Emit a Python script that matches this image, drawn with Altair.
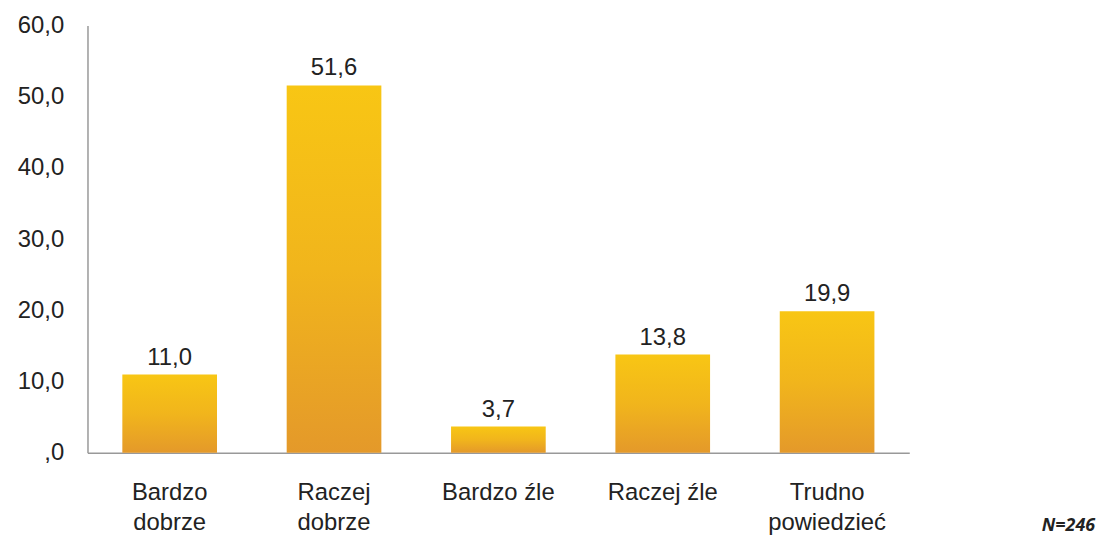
import altair as alt
import pandas as pd

categories = ["Bardzo dobrze", "Raczej dobrze", "Bardzo źle", "Raczej źle", "Trudno powiedzieć"]
values = [11.0, 51.6, 3.7, 13.8, 19.9]
y_ticks = [0, 10, 20, 30, 40, 50, 60]
note = ["N=246"]

df = pd.DataFrame({"kat": categories, "val": values})
note_df = pd.DataFrame({"t": note})

FONT = "Liberation Sans"

x = alt.X("kat:N", sort=categories, title=None,
          scale=alt.Scale(paddingInner=0.424, paddingOuter=0.212),
          axis=alt.Axis(labelAngle=0, ticks=False, domainColor="#999999", domainWidth=1.5,
                        labelFontSize=24, labelFont=FONT, labelColor="#222222",
                        labelPadding=40, labelLineHeight=30, labelBaseline="middle",
                        labelExpr="indexof(datum.label, 'źle') >= 0 ? datum.label : split(datum.label, ' ')"))
y = alt.Y("val:Q", title=None,
          scale=alt.Scale(domain=[0, 60], nice=False),
          axis=alt.Axis(values=y_ticks, ticks=False, grid=False, domainColor="#999999", domainWidth=1.5,
                        labelFontSize=24, labelFont=FONT, labelColor="#222222", labelPadding=24,
                        labelExpr="datum.value == 0 ? ',0' : replace(format(datum.value, '.1f'), '.', ',')"))

grad = alt.Gradient(gradient="linear", x1=0, x2=0, y1=0, y2=1,
                    stops=[alt.GradientStop(color="#F8C614", offset=0),
                           alt.GradientStop(color="#F1B51C", offset=0.5),
                           alt.GradientStop(color="#E4992A", offset=1)])

bars = alt.Chart(df).mark_bar(color=grad).encode(x=x, y=y)

labels = alt.Chart(df).transform_calculate(
    lab="replace(format(datum.val, '.1f'), '.', ',')"
).mark_text(dy=-5, baseline="bottom", fontSize=24, font=FONT, color="#222222").encode(
    x=alt.X("kat:N", sort=categories), y="val:Q", text="lab:N")

note_layer = alt.Chart(note_df).mark_text(fontSize=18, font="Open Sans", fontStyle="italic",
                                          fontWeight="bold", color="#222222", align="right",
                                          baseline="alphabetic").encode(
    x=alt.value(1014), y=alt.value(509), text="t:N")

chart = alt.layer(bars, labels, note_layer).properties(
    width=827, height=430,
    autosize=alt.AutoSizeParams(type="none"),
    padding={"left": 80, "top": 16, "right": 200, "bottom": 81},
).configure(background="white").configure_view(stroke=None)

chart.save("out.html", embed_options={"renderer": "svg", "actions": False})
